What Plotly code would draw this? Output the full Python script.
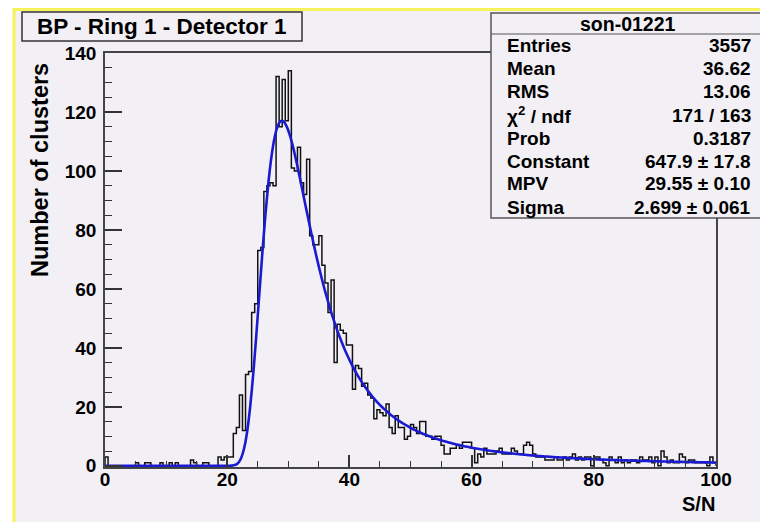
import numpy as np
import plotly.graph_objects as go

# ---------------- data ----------------
bin_width = 0.5
counts = [
    3, 0, 0, 0, 0, 0, 0, 0, 0, 0,            # 0.0 - 4.5
    1, 0, 0, 1, 1, 0, 0, 0, 1, 0,            # 5.0 - 9.5
    0, 1, 0, 1, 0, 0, 0, 0, 2, 1,            # 10.0 - 14.5
    0, 0, 1, 1, 0, 0, 0, 3, 2, 3,            # 15.0 - 19.5
    3, 3, 11, 13, 24, 12, 31, 32, 52, 55,    # 20.0 - 24.5
    73, 74, 93, 95, 96, 95, 132, 115, 131, 117,   # 25.0 - 29.5
    134, 101, 100, 108, 96, 92, 104, 78, 75, 75,  # 30.0 - 34.5
    78, 68, 62, 52, 63, 35, 48, 46, 45, 41,  # 35.0 - 39.5
    41, 26, 34, 33, 27, 28, 24, 23, 16, 19,  # 40.0 - 44.5
    18, 17, 21, 13, 11, 17, 13, 13, 9, 10,   # 45.0 - 49.5
    14, 13, 11, 15, 15, 10, 10, 9, 10, 10,   # 50.0 - 54.5
    7, 4, 4, 6, 6, 7, 6, 8, 8, 8,            # 55.0 - 59.5
    6, 1, 4, 3, 6, 4, 4, 4, 5, 6,            # 60.0 - 64.5
    4, 4, 4, 6, 5, 4, 4, 7, 8, 7,            # 65.0 - 69.5
    4, 3, 3, 3, 2, 2, 2, 3, 2, 2,            # 70.0 - 74.5
    3, 2, 3, 4, 2, 3, 2, 3, 3, 0,            # 75.0 - 79.5
    3, 3, 2, 1, 0, 3, 2, 1, 3, 1,            # 80.0 - 84.5
    2, 1, 2, 2, 1, 3, 2, 2, 3, 1,            # 85.0 - 89.5
    3, 0, 5, 3, 1, 2, 1, 1, 4, 3,            # 90.0 - 94.5
    1, 2, 2, 1, 1, 1, 1, 0, 3, 1,            # 95.0 - 99.5
]

# Landau fit curve, read at bin centres 20.25 ... 99.75
fit_values = [
    0.01, 0.06, 0.25, 0.89, 2.50, 5.77, 11.41, 19.81,
    30.85, 43.91, 58.01, 72.04, 85.00, 96.11, 104.92, 111.26,
    115.18, 116.90, 116.74, 115.03, 112.12, 108.32, 103.90, 99.09,
    94.07, 88.98, 83.93, 79.01, 74.25, 69.71, 65.40, 61.33,
    57.51, 53.93, 50.59, 47.48, 44.59, 41.89, 39.39, 37.07,
    34.91, 32.90, 31.04, 29.31, 27.70, 26.21, 24.81, 23.52,
    22.31, 21.18, 20.12, 19.14, 18.22, 17.36, 16.55, 15.79,
    15.08, 14.41, 13.78, 13.19, 12.64, 12.11, 11.62, 11.15,
    10.71, 10.29, 9.90, 9.52, 9.17, 8.83, 8.51, 8.21,
    7.92, 7.65, 7.39, 7.14, 6.90, 6.67, 6.46, 6.25,
    6.06, 5.87, 5.69, 5.52, 5.35, 5.20, 5.05, 4.90,
    4.76, 4.63, 4.50, 4.38, 4.26, 4.15, 4.04, 3.93,
    3.83, 3.73, 3.64, 3.55, 3.46, 3.38, 3.30, 3.22,
    3.14, 3.07, 3.00, 2.93, 2.86, 2.80, 2.74, 2.68,
    2.62, 2.56, 2.51, 2.46, 2.40, 2.35, 2.31, 2.26,
    2.21, 2.17, 2.13, 2.09, 2.05, 2.01, 1.97, 1.93,
    1.89, 1.86, 1.83, 1.79, 1.76, 1.73, 1.70, 1.67,
    1.64, 1.61, 1.58, 1.56, 1.53, 1.50, 1.48, 1.45,
    1.43, 1.41, 1.38, 1.36, 1.34, 1.32, 1.30, 1.28,
    1.26, 1.24, 1.22, 1.20, 1.18, 1.17, 1.15, 1.13,
]
fit_low_x = [0, 5, 10, 15, 19, 19.5, 20.0]
fit_low_values = [0, 0, 0, 0, 0, 0, 0.003]
fit_end_x = [100.0]
fit_end_values = [1.123]

title_text = "BP - Ring 1 - Detector 1"
x_title = "S/N"
y_title = "Number of clusters"
stats_title = "son-01221"
stats_labels = ["Entries", "Mean", "RMS", "χ<sup>2</sup> / ndf", "Prob",
                "Constant", "MPV", "Sigma"]
stats_values = ["3557", "36.62", "13.06", "171 / 163", "0.3187",
                "647.9 ± 17.8", "29.55 ± 0.10", "2.699 ± 0.061"]
x_ticks = [0, 20, 40, 60, 80, 100]
y_ticks = [0, 20, 40, 60, 80, 100, 120, 140]

# ---------------- geometry (page pixels; page has an 8px body margin) ----------------
OFF = 8
PAGE_W, PAGE_H = 768, 522
W, H = PAGE_W - OFF, PAGE_H - OFF
L, R, T, B = 105, 716, 53, 467          # plot-area box in page pixels
def px(x):
    return (x - L) / (R - L)
def py(y):
    return (B - y) / (B - T)

BG = "#f3f0f5"
FONT = "Liberation Sans, Arial, Helvetica, sans-serif"

# ---------------- traces ----------------
edges = np.arange(len(counts) + 1) * bin_width
hist_x = np.concatenate([[edges[0]], edges, [edges[-1]]])
hist_y = np.concatenate([[0], counts, [counts[-1]], [0]])

centres = np.arange(len(fit_values)) * bin_width + 20.25
fit_x = np.concatenate([fit_low_x, centres, fit_end_x])
fit_y = np.concatenate([fit_low_values, fit_values, fit_end_values])

fig = go.Figure()
fig.add_trace(go.Scatter(x=hist_x, y=hist_y, mode="lines",
                         line=dict(color="#111111", width=1.5, shape="hv"),
                         hoverinfo="skip", showlegend=False))
fig.add_trace(go.Scatter(x=fit_x, y=fit_y, mode="lines",
                         line=dict(color="#1a1ad2", width=2.6, shape="spline", smoothing=0.6),
                         hoverinfo="skip", showlegend=False))

# ---------------- shapes ----------------
shapes = [
    dict(type="rect", xref="paper", yref="paper", layer="below",
         x0=px(14), x1=px(830), y0=py(570), y1=py(9.5),
         fillcolor=BG, line=dict(color="#f6f25a", width=3)),
    dict(type="rect", xref="paper", yref="paper",
         x0=px(22), x1=px(302), y0=py(41), y1=py(12),
         fillcolor=BG, line=dict(color="#333333", width=1.5)),
    dict(type="rect", xref="paper", yref="paper",
         x0=px(491), x1=px(766), y0=py(218), y1=py(13),
         fillcolor=BG, line=dict(color="#555555", width=1.5)),
    dict(type="line", xref="paper", yref="paper",
         x0=px(491), x1=px(766), y0=py(34), y1=py(34),
         line=dict(color="#555555", width=1.2)),
]

annotations = [
    dict(text="<b>%s</b>" % title_text, x=px(162), y=py(26.5), xref="paper", yref="paper",
         showarrow=False, xanchor="center", yanchor="middle",
         font=dict(family=FONT, size=22.5, color="black")),
    dict(text="<b>%s</b>" % stats_title, x=px(628), y=py(24), xref="paper", yref="paper",
         showarrow=False, xanchor="center", yanchor="middle",
         font=dict(family=FONT, size=19.5, color="black")),
    dict(text="<b>%s</b>" % x_title, x=px(717), y=py(504), xref="paper", yref="paper",
         showarrow=False, xanchor="right", yanchor="middle",
         font=dict(family=FONT, size=20, color="black")),
    dict(text="<b>%s</b>" % y_title, x=px(40), y=py(61), xref="paper", yref="paper",
         showarrow=False, xanchor="center", yanchor="top", textangle=-90,
         font=dict(family=FONT, size=23.5, color="black")),
]
row_y0, row_dy = 46, 23.0
for i, (lab, val) in enumerate(zip(stats_labels, stats_values)):
    yy = row_y0 + i * row_dy
    annotations.append(dict(text="<b>%s</b>" % lab, x=px(505), y=py(yy), xref="paper", yref="paper",
                            showarrow=False, xanchor="left", yanchor="middle",
                            font=dict(family=FONT, size=19, color="black")))
    annotations.append(dict(text="<b>%s</b>" % val, x=px(753), y=py(yy), xref="paper", yref="paper",
                            showarrow=False, xanchor="right", yanchor="middle",
                            font=dict(family=FONT, size=19, color="black")))

fig.update_layout(
    width=W, height=H,
    margin=dict(l=L - OFF, r=PAGE_W - R, t=T - OFF, b=PAGE_H - B, pad=0),
    paper_bgcolor="white", plot_bgcolor="rgba(0,0,0,0)",
    shapes=shapes, annotations=annotations,
    xaxis=dict(range=[0, 100], tickvals=x_ticks, ticktext=[str(v) for v in x_ticks],
               ticks="inside", ticklen=12, tickwidth=1.5, tickcolor="#333333",
               minor=dict(dtick=5, ticklen=6, tickwidth=1.2, tickcolor="#333333", ticks="inside", showgrid=False),
               showline=True, linecolor="#444444", linewidth=1.5, mirror=True,
               showgrid=False, zeroline=False,
               tickfont=dict(family=FONT, size=19, color="black", weight="bold"),
               ticklabelstandoff=-6),
    yaxis=dict(range=[-0.4, 140], tickvals=y_ticks, ticktext=[str(v) for v in y_ticks],
               ticks="inside", ticklen=17, tickwidth=1.5, tickcolor="#333333",
               minor=dict(dtick=5, tick0=0, ticklen=7, tickwidth=1.2, tickcolor="#333333", ticks="inside", showgrid=False),
               showline=True, linecolor="#444444", linewidth=1.5, mirror=True,
               showgrid=False, zeroline=False,
               tickfont=dict(family=FONT, size=19, color="black", weight="bold"),
               ticklabelstandoff=3),
)

fig.write_html("out.html")
